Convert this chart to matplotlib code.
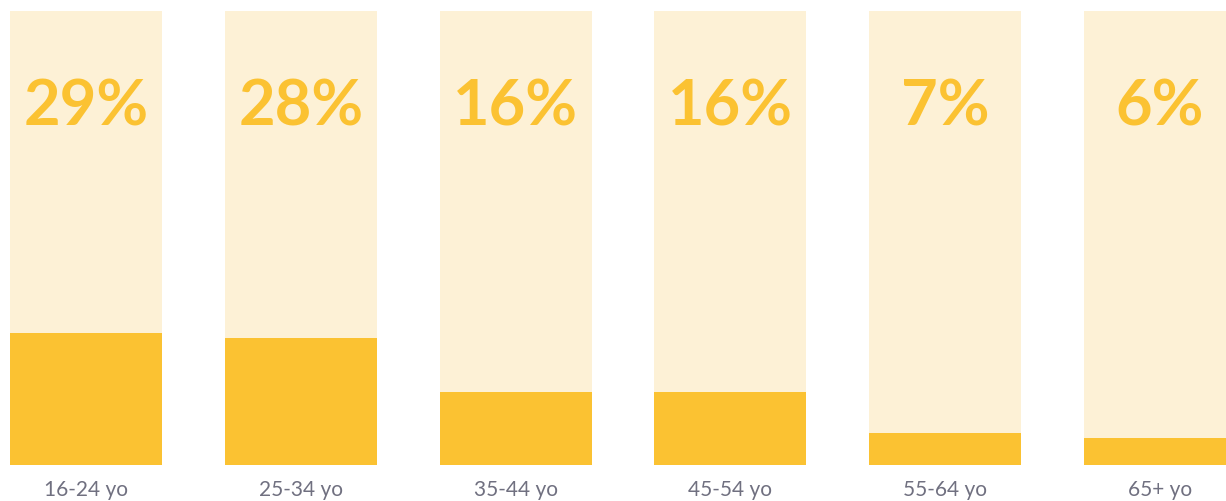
import matplotlib.pyplot as plt

# Data
groups = ['16-24 yo', '25-34 yo', '35-44 yo', '45-54 yo', '55-64 yo', '65+ yo']
shares = [29, 28, 16, 16, 7, 6]

dark = '#FBC232'
light = '#FDF1D6'

fig = plt.figure(figsize=(12.26, 5.02), dpi=100)
ax = fig.add_axes([0, 36 / 502, 1, 454 / 502])

x = list(range(len(groups)))
width = 0.7076
ax.bar(x, [100] * len(groups), width=width, color=light, zorder=1)
ax.bar(x, shares, width=width, color=dark, zorder=2)

for xi, v in zip(x, shares):
    ax.text(xi, 78.9, f'{v}%', ha='center', va='center', fontsize=45.5,
            fontweight='bold', family='Lato', color=dark, zorder=3)

ax.set_xlim(-0.4004, 5.307)
ax.set_ylim(0, 100)
ax.set_xticks(x)
ax.set_xticklabels(groups, family='Lato', fontsize=15, color='#707080')
ax.tick_params(axis='x', length=0, pad=10)
ax.set_yticks([])
for s in ax.spines.values():
    s.set_visible(False)

fig.savefig('out.png', dpi=100)
